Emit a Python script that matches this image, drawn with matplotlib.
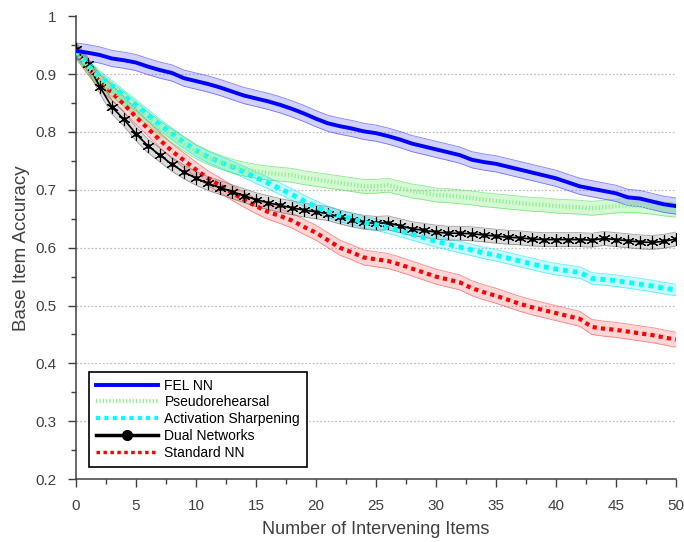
import numpy as np
import matplotlib
matplotlib.use("Agg")
from matplotlib import pyplot as plt
from matplotlib.lines import Line2D
from matplotlib.ticker import MultipleLocator, FuncFormatter

plt.rcParams['font.family'] = ['Liberation Sans', 'DejaVu Sans']

# Datos (x = 0..50)
items = list(range(51))

fel_nn = [0.940, 0.937, 0.933, 0.927, 0.924, 0.920, 0.913, 0.907, 0.902, 0.893,
          0.888, 0.883, 0.877, 0.870, 0.863, 0.858, 0.853, 0.847, 0.840, 0.832,
          0.823, 0.815, 0.810, 0.806, 0.801, 0.798, 0.793, 0.787, 0.780, 0.775,
          0.770, 0.765, 0.760, 0.752, 0.748, 0.745, 0.740, 0.735, 0.730, 0.725,
          0.720, 0.713, 0.706, 0.702, 0.698, 0.694, 0.687, 0.685, 0.680, 0.675,
          0.672]

pseudo = [0.940, 0.912, 0.890, 0.873, 0.857, 0.840, 0.823, 0.807, 0.793, 0.779,
          0.766, 0.756, 0.748, 0.741, 0.736, 0.732, 0.729, 0.727, 0.725, 0.721,
          0.718, 0.715, 0.712, 0.709, 0.706, 0.706, 0.708, 0.703, 0.698, 0.695,
          0.691, 0.690, 0.688, 0.686, 0.683, 0.681, 0.679, 0.677, 0.675, 0.674,
          0.672, 0.671, 0.670, 0.668, 0.670, 0.672, 0.673, 0.672, 0.670, 0.667,
          0.665]

activation = [0.940, 0.915, 0.895, 0.879, 0.862, 0.846, 0.829, 0.812, 0.797, 0.782,
              0.768, 0.757, 0.748, 0.740, 0.731, 0.721, 0.712, 0.702, 0.692, 0.681,
              0.671, 0.662, 0.655, 0.650, 0.644, 0.640, 0.635, 0.629, 0.623, 0.617,
              0.611, 0.606, 0.601, 0.596, 0.591, 0.587, 0.582, 0.577, 0.572, 0.567,
              0.563, 0.560, 0.557, 0.547, 0.545, 0.543, 0.540, 0.537, 0.534, 0.530,
              0.527]

dual = [0.943, 0.917, 0.878, 0.843, 0.822, 0.797, 0.776, 0.760, 0.744, 0.731,
        0.720, 0.711, 0.704, 0.697, 0.690, 0.683, 0.678, 0.673, 0.669, 0.665,
        0.662, 0.659, 0.653, 0.648, 0.644, 0.642, 0.643, 0.638, 0.633, 0.630,
        0.627, 0.625, 0.625, 0.624, 0.622, 0.620, 0.618, 0.617, 0.615, 0.614,
        0.614, 0.614, 0.614, 0.613, 0.616, 0.614, 0.612, 0.610, 0.609, 0.611,
        0.615]

standard = [0.940, 0.912, 0.886, 0.868, 0.848, 0.826, 0.806, 0.786, 0.767, 0.751,
            0.735, 0.720, 0.708, 0.695, 0.683, 0.672, 0.662, 0.655, 0.647, 0.636,
            0.626, 0.613, 0.600, 0.592, 0.583, 0.580, 0.577, 0.571, 0.564, 0.557,
            0.550, 0.545, 0.540, 0.530, 0.523, 0.517, 0.510, 0.503, 0.497, 0.492,
            0.487, 0.482, 0.477, 0.463, 0.460, 0.458, 0.455, 0.452, 0.449, 0.445,
            0.441]

# semiancho de las bandas sombreadas
error_fel = 0.014
error_pseudo = 0.012
error_activation = 0.010
error_dual = 0.012
error_standard = 0.013

x = np.array(items)

fig = plt.figure(figsize=(6.84, 5.42), dpi=100)
ax = fig.add_axes([0.111, 0.116, 0.877, 0.854])

# bandas
bandas = [
    (standard, error_standard, "#ff4040"),
    (dual, error_dual, "#606060"),
    (activation, error_activation, "#00e8ff"),
    (pseudo, error_pseudo, "#40e040"),
    (fel_nn, error_fel, "#3030ff"),
]
for serie, err, color in bandas:
    serie = np.array(serie)
    ax.fill_between(x, serie - err, serie + err, color=color, alpha=0.22, lw=0)
    ax.plot(x, serie - err, color=color, lw=0.6, alpha=0.6)
    ax.plot(x, serie + err, color=color, lw=0.6, alpha=0.6)

ax.plot(x, standard, color="#ff0000", lw=3, linestyle=(0, (1, 1)), zorder=3)
ax.plot(x, dual, color="black", lw=1.2, marker=(6, 2, 0), markersize=9,
        markeredgewidth=0.8, zorder=4)
ax.plot(x, dual, color="black", lw=0, marker="o", markersize=2.5, zorder=4)
ax.plot(x, activation, color="#00ffff", lw=3.5, linestyle=(0, (1, 1)), zorder=5)
ax.plot(x, pseudo, color="#90f090", lw=3, linestyle=(0, (0.3, 0.5)), zorder=5)
ax.plot(x, fel_nn, color="#0000ff", lw=2.8, zorder=6)

ax.set_xlim(0, 50)
ax.set_ylim(0.2, 1)
ax.xaxis.set_major_locator(MultipleLocator(5))
ax.xaxis.set_minor_locator(MultipleLocator(2.5))
ax.yaxis.set_major_locator(MultipleLocator(0.1))
ax.yaxis.set_minor_locator(MultipleLocator(0.05))
ax.yaxis.set_major_formatter(FuncFormatter(lambda v, p: "%g" % round(v, 2)))

for yv in np.arange(0.3, 1.0, 0.1):
    ax.axhline(yv, color="#c0c0c0", lw=0.9, linestyle=(0, (1.5, 1.5)), zorder=0)

for lado in ["top", "right"]:
    ax.spines[lado].set_visible(False)
for lado in ["left", "bottom"]:
    ax.spines[lado].set_color("#404040")
    ax.spines[lado].set_linewidth(1.1)

ax.tick_params(which="major", direction="out", length=6, width=1, color="#404040",
               labelsize=11, labelcolor="#404040", pad=8)
ax.tick_params(which="minor", direction="out", length=3.5, width=1, color="#404040")

ax.set_xlabel("Number of Intervening Items", fontsize=13, color="#404040", labelpad=6)
ax.set_ylabel("Base Item Accuracy", fontsize=13.5, color="#404040")

handles = [
    Line2D([], [], color="#0000ff", lw=2.8),
    Line2D([], [], color="#90f090", lw=3, linestyle=(0, (0.3, 0.5))),
    Line2D([], [], color="#00ffff", lw=3, linestyle=(0, (1, 1))),
    Line2D([], [], color="black", lw=2.5, marker="o", markersize=7),
    Line2D([], [], color="#ff0000", lw=2.5, linestyle=(0, (1, 1))),
]
labels = ["FEL NN", "Pseudorehearsal", "Activation Sharpening", "Dual Networks", "Standard NN"]
leg = ax.legend(handles, labels, loc="lower left", bbox_to_anchor=(0.011, 0.012),
                fontsize=10, fancybox=False, edgecolor="black", framealpha=1,
                handlelength=4.4, labelspacing=0.2, borderpad=0.5, handletextpad=0.5)
leg.get_frame().set_linewidth(1.2)

fig.savefig("out.png", dpi=100)
